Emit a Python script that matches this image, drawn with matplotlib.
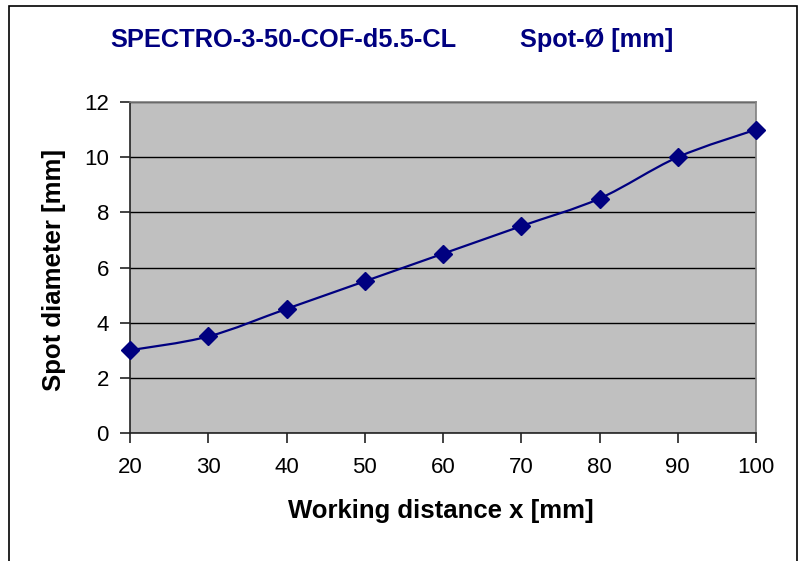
import numpy as np
import matplotlib.pyplot as plt
from matplotlib.path import Path
from matplotlib.patches import PathPatch, Rectangle

plt.rcParams['font.family'] = ['Liberation Sans', 'DejaVu Sans']

# data
distance_mm = [20, 30, 40, 50, 60, 70, 80, 90, 100]
spot_mm = [3.0, 3.5, 4.5, 5.5, 6.5, 7.5, 8.5, 10.0, 11.0]
title_left = "SPECTRO-3-50-COF-d5.5-CL"
title_right = "Spot-Ø [mm]"
navy = "#000080"

W, H = 802, 561
fig = plt.figure(figsize=(W / 100, H / 100), dpi=100)
ax = fig.add_axes([130 / W, 1 - 433 / H, (756 - 130) / W, (433 - 102) / H])
ax.set_facecolor("#C0C0C0")

# smoothed line like Excel (Catmull-Rom as cubic Bezier)
x = np.array(distance_mm, float)
y = np.array(spot_mm, float)
verts = [(x[0], y[0])]
codes = [Path.MOVETO]
t = 1 / 6
for i in range(len(x) - 1):
    p0 = (x[max(i - 1, 0)], y[max(i - 1, 0)])
    p1 = (x[i], y[i])
    p2 = (x[i + 1], y[i + 1])
    p3 = (x[min(i + 2, len(x) - 1)], y[min(i + 2, len(x) - 1)])
    c1 = (p1[0] + (p2[0] - p0[0]) * t, p1[1] + (p2[1] - p0[1]) * t)
    c2 = (p2[0] - (p3[0] - p1[0]) * t, p2[1] - (p3[1] - p1[1]) * t)
    verts += [c1, c2, p2]
    codes += [Path.CURVE4] * 3
ax.add_patch(PathPatch(Path(verts, codes), fill=False, edgecolor=navy, lw=1.6, zorder=3))
ax.plot(distance_mm, spot_mm, linestyle="none", marker="D", ms=9.5, color=navy, zorder=4, clip_on=False)

ax.set_xlim(20, 100)
ax.set_ylim(0, 12)
ax.set_xticks(range(20, 101, 10))
ax.set_yticks(range(0, 13, 2))
ax.yaxis.grid(True, color="black", lw=1)
ax.set_axisbelow(True)
for s in ("top", "right"):
    ax.spines[s].set_color("#808080")
    ax.spines[s].set_linewidth(1.2)
for s in ("left", "bottom"):
    ax.spines[s].set_color("#222222")
    ax.spines[s].set_linewidth(1.2)
ax.tick_params(direction="out", length=7.2, width=1.2, color="#222222", labelsize=16)
ax.tick_params(axis="y", pad=8)
ax.tick_params(axis="x", pad=10)

fig.text(110 / W, 1 - 40 / H, title_left, color=navy, fontsize=18.3, fontweight="bold", va="center", ha="left")
fig.text(520 / W, 1 - 40 / H, title_right, color=navy, fontsize=18.3, fontweight="bold", va="center", ha="left")
fig.text(441 / W, 1 - 511 / H, "Working distance x [mm]", fontsize=18.5, fontweight="bold", ha="center", va="center")
fig.text(54 / W, 1 - 270 / H, "Spot diameter [mm]", fontsize=18.5, fontweight="bold", rotation=90, ha="center", va="center")

fig.patches.append(Rectangle((9 / W, -0.05), (797 - 9) / W, 1.05 - 6 / H, transform=fig.transFigure,
                             fill=False, edgecolor="black", lw=1.2))

fig.savefig("out.png", dpi=100)
